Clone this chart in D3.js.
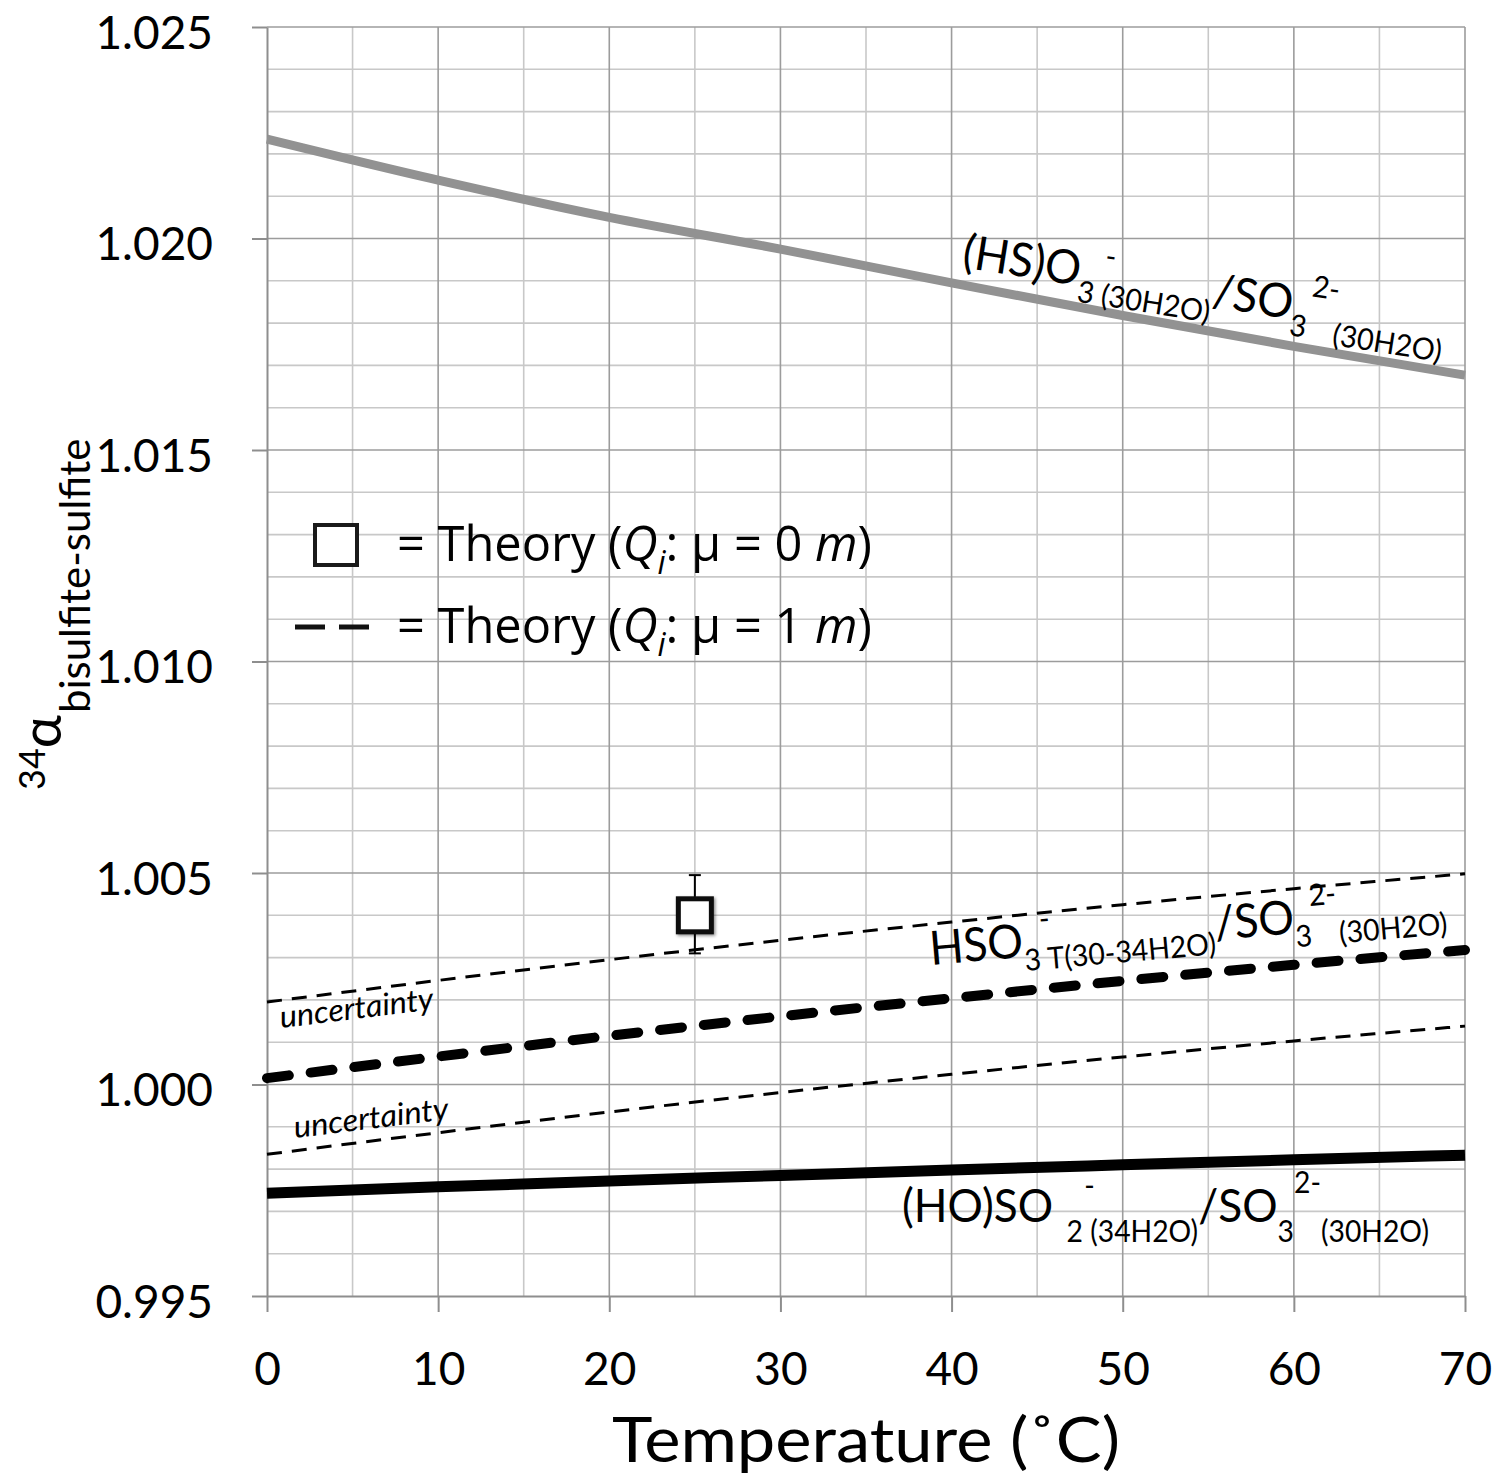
<!DOCTYPE html>
<html><head><meta charset="utf-8">
<script src="https://cdn.jsdelivr.net/npm/d3@7"></script>
<style>body{margin:0;background:#fff}</style>
</head><body>
<script>
// ---- data ----
const temps = [0, 10, 20, 30, 40, 50, 60, 70];
const hsO3Series   = [1.02235, 1.02138, 1.02050, 1.01975, 1.01895, 1.01818, 1.01745, 1.01677];
const hso3TSeries  = [1.00015, 1.00066, 1.00115, 1.00161, 1.00204, 1.00245, 1.00283, 1.00318];
const uncUpper     = [1.00195, 1.00246, 1.00295, 1.00341, 1.00384, 1.00425, 1.00463, 1.00498];
const uncLower     = [0.99835, 0.99886, 0.99935, 0.99981, 1.00024, 1.00065, 1.00103, 1.00138];
const hoSO2Series  = [0.99743, 0.99758, 0.99772, 0.99785, 0.99798, 0.99810, 0.99822, 0.99833];
const pointT  = [25];
const pointA  = [1.0040];
const pointLo = [1.0031];
const pointHi = [1.00495];
const xTicks = [0, 10, 20, 30, 40, 50, 60, 70];
const yTicks = [0.995, 1.000, 1.005, 1.010, 1.015, 1.020, 1.025];

const W = 1497, H = 1481;
const x = d3.scaleLinear().domain([0, 70]).range([267, 1465]);
const y = d3.scaleLinear().domain([0.995, 1.025]).range([1296, 27]);
const FONT = "Lato, 'Open Sans', sans-serif";

const svg = d3.select("body").append("svg").attr("width", W).attr("height", H).style("display", "block");
svg.append("rect").attr("width", W).attr("height", H).attr("fill", "#fff");

const defs = svg.append("defs");
const f = defs.append("filter").attr("id", "shadow").attr("x", "-30%").attr("y", "-30%").attr("width", "160%").attr("height", "160%");
f.append("feDropShadow").attr("dx", 1.5).attr("dy", 1.5).attr("stdDeviation", 1.5).attr("flood-color", "#000").attr("flood-opacity", 0.45);

// ---- grid ----
const xMinor = d3.range(5, 70, 10);
const yMinor = d3.range(0, 31).filter(i => i % 5 !== 0).map(i => 0.995 + i * 0.001);
const gMinor = svg.append("g").attr("stroke", "#c8c8c8").attr("stroke-width", 1.6);
gMinor.selectAll("line.vx").data(xMinor).join("line").attr("class", "vx")
  .attr("x1", d => x(d)).attr("x2", d => x(d)).attr("y1", y(1.025)).attr("y2", y(0.995));
gMinor.selectAll("line.hy").data(yMinor).join("line").attr("class", "hy")
  .attr("x1", x(0)).attr("x2", x(70)).attr("y1", d => y(d)).attr("y2", d => y(d));
const gMajor = svg.append("g").attr("stroke", "#9c9c9c").attr("stroke-width", 1.6);
gMajor.selectAll("line.vx").data(xTicks.slice(1)).join("line").attr("class", "vx")
  .attr("x1", d => x(d)).attr("x2", d => x(d)).attr("y1", y(1.025)).attr("y2", y(0.995));
gMajor.selectAll("line.hy").data(yTicks.slice(1)).join("line").attr("class", "hy")
  .attr("x1", x(0)).attr("x2", x(70)).attr("y1", d => y(d)).attr("y2", d => y(d));

// ---- axes ----
const yAxis = d3.axisLeft(y).tickValues(yTicks).tickSize(15).tickSizeOuter(0).tickPadding(39).tickFormat(d3.format(".3f"));
const gy = svg.append("g").attr("transform", `translate(${x(0)},0)`).call(yAxis);
const xAxis = d3.axisBottom(x).tickValues(xTicks).tickSize(16).tickSizeOuter(0).tickPadding(40).tickFormat(d3.format("d"));
const gx = svg.append("g").attr("transform", `translate(0,${y(0.995)})`).call(xAxis);
[gy, gx].forEach(g => {
  g.select(".domain").attr("stroke", "#8e8e8e").attr("stroke-width", 2);
  g.selectAll(".tick line").attr("stroke", "#8e8e8e").attr("stroke-width", 2);
  g.selectAll(".tick text").attr("font-family", FONT).attr("font-size", 46).attr("fill", "#000");
});
gy.selectAll(".tick text").attr("dy", "0.46em");

// ---- series ----
const line = d3.line().x((d, i) => x(temps[i])).y(d => y(d)).curve(d3.curveMonotoneX);
svg.append("path").datum(hsO3Series).attr("d", line).attr("fill", "none").attr("stroke", "#929292").attr("stroke-width", 9);
svg.append("path").datum(uncUpper).attr("d", line).attr("fill", "none").attr("stroke", "#000").attr("stroke-width", 3).attr("stroke-dasharray", "15 10");
svg.append("path").datum(uncLower).attr("d", line).attr("fill", "none").attr("stroke", "#000").attr("stroke-width", 3).attr("stroke-dasharray", "15 10");
svg.append("path").datum(hso3TSeries).attr("d", line).attr("fill", "none").attr("stroke", "#000").attr("stroke-width", 10)
  .attr("stroke-dasharray", "22 22").attr("stroke-linecap", "round");
svg.append("path").datum(hoSO2Series).attr("d", line).attr("fill", "none").attr("stroke", "#000").attr("stroke-width", 11);

// ---- point with error bar ----
const gp = svg.append("g");
pointT.forEach((t, i) => {
  const cx = x(t);
  gp.append("line").attr("x1", cx).attr("x2", cx).attr("y1", y(pointHi[i])).attr("y2", y(pointLo[i])).attr("stroke", "#000").attr("stroke-width", 2);
  [pointHi[i], pointLo[i]].forEach(v => gp.append("line").attr("x1", cx - 6).attr("x2", cx + 6).attr("y1", y(v)).attr("y2", y(v)).attr("stroke", "#000").attr("stroke-width", 2));
  gp.append("rect").attr("x", cx - 16.5).attr("y", y(pointA[i]) - 16.5).attr("width", 33).attr("height", 33)
    .attr("fill", "#fff").attr("stroke", "#111").attr("stroke-width", 5).attr("filter", "url(#shadow)");
});

// ---- helpers ----
function fitGroup(g, x0, y0, angle, target) {
  const bb = g.node().getBBox();
  const s = target / bb.width;
  g.attr("transform", `translate(${x0},${y0}) rotate(${angle}) scale(${s},1)`);
}
function formula(x0, y0, angle, base, target, segs) {
  const g = svg.append("g").attr("font-family", FONT).attr("fill", "#000");
  let cx = 0;
  segs.forEach(s => {
    const dx = (s.dx || 0) * base;
    const t = g.append("text").attr("x", cx + dx).attr("y", (s.dy || 0) * base)
      .attr("font-size", base * (s.s || 1)).text(s.t);
    const w = t.node().getComputedTextLength();
    if (s.adv !== false) cx += dx + w;
  });
  fitGroup(g, x0, y0, angle, target);
  return g;
}

formula(961, 267, 9, 47, 488, [
  { t: "(HS)O" },
  { t: "-", s: 0.64, dx: 0.5, dy: -0.5, adv: false },
  { t: "3 (30H2O)", s: 0.64, dy: 0.34 },
  { t: "/SO" },
  { t: "3", s: 0.64, dy: 0.34 },
  { t: "2-", s: 0.64, dy: -0.55 },
  { t: " (30H2O)", s: 0.64, dy: 0.4 }
]);

formula(931, 965, -5, 47, 518, [
  { t: "HSO" },
  { t: "-", s: 0.64, dx: 0.4, dy: -0.55, adv: false },
  { t: "3 T(30-34H2O)", s: 0.64, dy: 0.3 },
  { t: "/SO" },
  { t: "3", s: 0.64, dy: 0.3 },
  { t: "2-", s: 0.64, dy: -0.55 },
  { t: " (30H2O)", s: 0.64, dy: 0.3 }
]);

formula(902, 1222, 0, 47, 527, [
  { t: "(HO)SO" },
  { t: "-", s: 0.64, dx: 0.7, dy: -0.55, adv: false },
  { t: "2 (34H2O)", s: 0.64, dx: 0.3, dy: 0.42 },
  { t: "/SO" },
  { t: "3", s: 0.64, dy: 0.42 },
  { t: "2-", s: 0.64, dy: -0.62 },
  { t: " (30H2O)", s: 0.64, dy: 0.42 }
]);

[[281, 1028, 156], [295, 1138, 157]].forEach(p => {
  const g = svg.append("g");
  g.append("text").attr("font-family", FONT).attr("font-style", "italic").attr("font-size", 31).text("uncertainty");
  fitGroup(g, p[0], p[1], -7, p[2]);
});

// ---- legend ----
const LFONT = "'Open Sans', 'Noto Sans', sans-serif";
svg.append("rect").attr("x", 315).attr("y", 525).attr("width", 42).attr("height", 40)
  .attr("fill", "#fff").attr("stroke", "#1a1a1a").attr("stroke-width", 4);
svg.append("line").attr("x1", 295).attr("x2", 373).attr("y1", 627).attr("y2", 627)
  .attr("stroke", "#111").attr("stroke-width", 5).attr("stroke-dasharray", "30 14");
const legendVals = ["0", "1"];
const legendY = [561, 643];
legendVals.forEach((v, i) => {
  const g = svg.append("g");
  const t = g.append("text").attr("font-family", LFONT).attr("font-size", 49).attr("fill", "#000");
  t.append("tspan").text("= Theory (");
  t.append("tspan").attr("font-style", "italic").text("Q");
  t.append("tspan").attr("font-style", "italic").attr("font-size", 32).attr("dy", 13).text("i");
  t.append("tspan").attr("dy", -13).text(": \u03bc = " + v + " ");
  t.append("tspan").attr("font-style", "italic").text("m");
  t.append("tspan").text(")");
  fitGroup(g, 397, legendY[i], 0, 475);
});

// ---- axis titles ----
const gt = svg.append("g");
gt.append("text").attr("font-family", FONT).attr("font-size", 62).attr("fill", "#000").text("Temperature (\u02daC)");
fitGroup(gt, 612, 1462, 0, 508);

const yl = svg.append("g").attr("transform", "translate(61,790) rotate(-90)").attr("font-family", FONT).attr("fill", "#000");
const p34 = yl.append("text").attr("font-size", 36).attr("y", -16).text("34");
const w34 = p34.node().getComputedTextLength();
const pA = yl.append("text").attr("font-size", 56).attr("x", w34).text("\u03b1");
const wA = pA.node().getComputedTextLength();
yl.append("text").attr("font-size", 42).attr("x", w34 + wA + 2).attr("y", 29).text("bisulfite-sulfite");
</script>
</body></html>
